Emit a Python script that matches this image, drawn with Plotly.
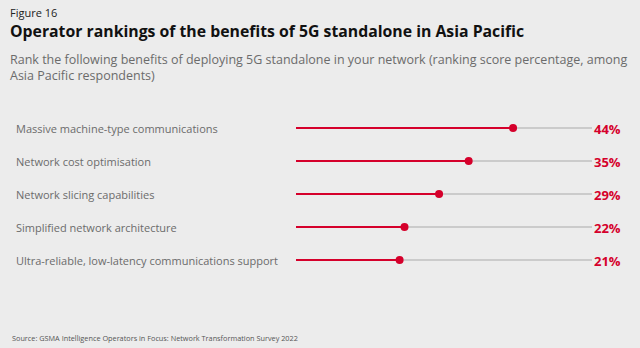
import plotly.graph_objects as go

categories = [
    "Massive machine-type communications",
    "Network cost optimisation",
    "Network slicing capabilities",
    "Simplified network architecture",
    "Ultra-reliable, low-latency communications support",
]
values = [44, 35, 29, 22, 21]
value_labels = ["44%", "35%", "29%", "22%", "21%"]
scale_max = 60

W, H = 640, 348
RED = "#d5002b"
TRACK = "#cbcbcb"
BG = "#ececec"
FONT = "Open Sans"

rows = list(range(len(categories)))

fig = go.Figure()

# grey tracks running the full scale
tx, ty = [], []
for r in rows:
    tx += [0, scale_max, None]
    ty += [r, r, None]
fig.add_trace(go.Scatter(x=tx, y=ty, mode="lines",
                         line=dict(color=TRACK, width=2), hoverinfo="skip"))

# red value lines
rx, ry = [], []
for r, v in zip(rows, values):
    rx += [0, v, None]
    ry += [r, r, None]
fig.add_trace(go.Scatter(x=rx, y=ry, mode="lines",
                         line=dict(color=RED, width=2.2), hoverinfo="skip"))

# end dots
fig.add_trace(go.Scatter(x=values, y=rows, mode="markers",
                         marker=dict(color=RED, size=8), hoverinfo="skip"))

annotations = []
for r, c in zip(rows, categories):
    annotations.append(dict(x=14 / W, y=r, xref="paper", yref="y", text=c,
                            showarrow=False, xanchor="left", yanchor="middle",
                            font=dict(family=FONT, size=11, color="#6b6b6b")))
for r, t in zip(rows, value_labels):
    annotations.append(dict(x=623 / W, y=r, xref="paper", yref="y",
                            text="<b>" + t + "</b>",
                            showarrow=False, xanchor="right", yanchor="middle",
                            yshift=-1,
                            font=dict(family=FONT, size=13, color=RED)))

annotations += [
    dict(x=8 / W, y=1 - 13 / H, xref="paper", yref="paper", text="Figure 16",
         showarrow=False, xanchor="left", yanchor="middle",
         font=dict(family=FONT, size=11, color="#222222")),
    dict(x=8 / W, y=1 - 31 / H, xref="paper", yref="paper",
         text="<b>Operator rankings of the benefits of 5G standalone in Asia Pacific</b>",
         showarrow=False, xanchor="left", yanchor="middle",
         font=dict(family=FONT, size=15.8, color="#111111")),
    dict(x=8 / W, y=1 - 49 / H, xref="paper", yref="paper",
         text="Rank the following benefits of deploying 5G standalone in your network (ranking score percentage, among<br>Asia Pacific respondents)",
         showarrow=False, xanchor="left", yanchor="top", align="left",
         font=dict(family=FONT, size=12.5, color="#6b6b6b")),
    dict(x=10 / W, y=1 - 338 / H, xref="paper", yref="paper",
         text="Source: GSMA Intelligence Operators in Focus: Network Transformation Survey 2022",
         showarrow=False, xanchor="left", yanchor="middle",
         font=dict(family=FONT, size=7.3, color="#555555")),
]

fig.update_layout(
    width=W, height=H,
    margin=dict(l=0, r=0, t=0, b=0),
    paper_bgcolor=BG, plot_bgcolor=BG,
    showlegend=False,
    annotations=annotations,
    xaxis=dict(range=[0, scale_max], domain=[296 / W, 592 / W],
               visible=False, fixedrange=True),
    yaxis=dict(range=[4.5, -0.5], domain=[1 - 276.5 / H, 1 - 111.5 / H],
               visible=False, fixedrange=True),
)

fig.write_html("out.html")
